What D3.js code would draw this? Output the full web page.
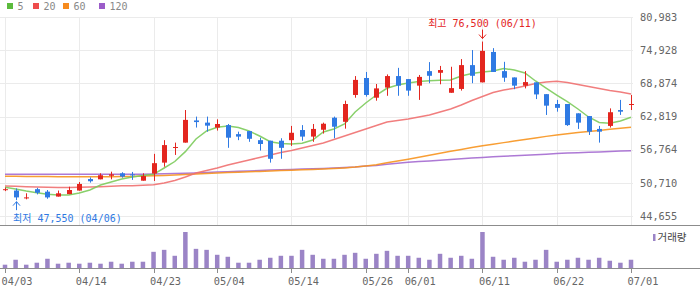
<!DOCTYPE html>
<html>
<head>
<meta charset="utf-8">
<script src="https://cdn.jsdelivr.net/npm/d3@7"></script>
<style>
  html, body { margin: 0; padding: 0; background: #fff; }
  svg { display: block; }
  text { font-family: "DejaVu Sans Mono", "Noto Sans CJK KR", monospace; }
</style>
</head>
<body>
<div id="chart"></div>
<script>
// trading days shown on the chart
var dates = [
	'04/03', '04/06', '04/07', '04/08', '04/09', '04/10', '04/13', '04/14', '04/15', '04/16',
	'04/17', '04/20', '04/21', '04/22', '04/23', '04/24', '04/27', '04/28', '04/29', '04/30',
	'05/04', '05/06', '05/07', '05/08', '05/11', '05/12', '05/13', '05/14', '05/15', '05/18',
	'05/19', '05/20', '05/21', '05/22', '05/26', '05/27', '05/28', '05/29', '06/01', '06/02',
	'06/04', '06/05', '06/08', '06/09', '06/10', '06/11', '06/12', '06/15', '06/16', '06/17',
	'06/18', '06/19', '06/22', '06/23', '06/24', '06/25', '06/26', '06/29', '06/30', '07/01'
];

// daily prices
var openPrice = [
	49500, 49300, 48000, 49550, 49100, 48200, 48650, 49300, 51400, 51350,
	52000, 52450, 52250, 51100, 52400, 54400, 57100, 58050, 62100, 61700,
	60800, 61250, 59600, 60150, 58500, 58400, 58400, 58500, 60350, 59150,
	60400, 62600, 61850, 66750, 69850, 66250, 68100, 70200, 69650, 68450,
	71100, 70800, 67150, 67850, 72200, 69050, 74600, 71100, 69950, 68450,
	69050, 66900, 65100, 65100, 63400, 62900, 60550, 61100, 64000, 65000
];
var highPrice = [
	49850, 49700, 48800, 49800, 49400, 49300, 50000, 50850, 51700, 52450,
	52750, 52650, 52700, 52450, 56000, 58500, 58050, 64000, 62800, 62800,
	62300, 61450, 60050, 60150, 58950, 58400, 58850, 61100, 61250, 61450,
	61700, 62800, 65700, 70200, 70950, 68750, 70500, 71700, 69650, 70400,
	72750, 72050, 71900, 73300, 74950, 76500, 75300, 72800, 69950, 71100,
	69050, 66900, 65850, 65100, 63400, 62900, 61100, 64300, 65850, 66750
];
var lowPrice = [
	49200, 47550, 47700, 48600, 47800, 48200, 48650, 49300, 50750, 51350,
	51350, 51650, 51250, 51100, 51050, 53650, 55800, 58050, 60800, 60050,
	60250, 57100, 58500, 58200, 56600, 54400, 55100, 57450, 58400, 58200,
	59700, 58850, 60600, 66250, 66450, 65700, 66600, 66600, 66600, 65850,
	68900, 68700, 67150, 67550, 68900, 69050, 70950, 69150, 67800, 67950,
	66000, 63100, 63700, 61100, 60550, 59450, 58050, 60800, 63100, 64000
];
var closePrice = [
	49550, 48050, 48050, 48900, 48050, 48800, 49400, 50500, 51000, 52100,
	52250, 51850, 52100, 51950, 54300, 57600, 57250, 62200, 61800, 61150,
	61450, 58950, 59150, 58750, 57800, 55100, 57100, 59850, 59150, 60550,
	61500, 60950, 65100, 69500, 66750, 67950, 70200, 68450, 67550, 70050,
	70250, 71300, 68000, 72200, 70250, 74800, 70950, 69900, 68450, 69100,
	66850, 64800, 64400, 61250, 61700, 60050, 60050, 63600, 63700, 65100
];

// volume (shares)
var volume = [
	10000, 25000, 10000, 16000, 28000, 13000, 16000, 13000, 16000, 13000,
	19000, 13000, 19000, 19000, 49000, 55000, 37000, 109000, 58000, 55000,
	40000, 34000, 16000, 16000, 25000, 31000, 37000, 37000, 55000, 40000,
	28000, 28000, 40000, 46000, 28000, 43000, 52000, 37000, 37000, 31000,
	25000, 43000, 31000, 37000, 28000, 109000, 34000, 25000, 31000, 19000,
	25000, 55000, 19000, 25000, 31000, 25000, 31000, 22000, 16000, 25000
];

// moving averages as drawn
var ma5 = [
	49890, 49580, 49220, 48910, 48620, 48490, 48490, 48850, 49400, 50310,
	50860, 51410, 51770, 52050, 52270, 53420, 54600, 56400, 58710, 60170,
	60850, 61090, 60810, 60170, 59260, 58220, 57890, 57800, 57930, 58530,
	59990, 60540, 61450, 63640, 65280, 66740, 67970, 68570, 68930, 69210,
	69350, 69430, 69480, 70210, 70670, 70940, 71130, 71580, 71310, 70760,
	69300, 68020, 66740, 65520, 64190, 62730, 61720, 61580, 62000, 62670
];
var ma20 = [
	50130, 50080, 50000, 49950, 49890, 49860, 49860, 49890, 49950, 50000,
	50080, 50190, 50190, 50260, 50370, 50680, 51140, 51770, 52510, 52960,
	53420, 53970, 54420, 54880, 55330, 55790, 56250, 56610, 57070, 57530,
	57980, 58620, 59260, 59900, 60540, 61180, 61820, 62090, 62360, 62730,
	63090, 63640, 64190, 64920, 65740, 66470, 67200, 67660, 67970, 68390,
	68840, 69120, 69240, 69030, 68660, 68300, 67930, 67570, 67290, 66930
];
var ma60 = [
	51920, 51900, 51880, 51870, 51850, 51830, 51830, 51810, 51810, 51810,
	51830, 51850, 51880, 51940, 51990, 52070, 52140, 52230, 52320, 52410,
	52510, 52580, 52650, 52720, 52800, 52870, 52940, 53020, 53090, 53140,
	53220, 53310, 53440, 53580, 53780, 54000, 54370, 54700, 55020, 55370,
	55740, 56100, 56480, 56810, 57140, 57470, 57760, 58050, 58350, 58640,
	58910, 59190, 59440, 59680, 59900, 60100, 60280, 60480, 60670, 60870
];
var ma120 = [
	52270, 52270, 52270, 52270, 52270, 52270, 52270, 52270, 52270, 52270,
	52270, 52270, 52270, 52290, 52320, 52360, 52410, 52470, 52520, 52600,
	52670, 52740, 52820, 52890, 52960, 53030, 53090, 53160, 53220, 53270,
	53330, 53420, 53510, 53600, 53780, 53890, 54110, 54290, 54460, 54590,
	54710, 54840, 54970, 55100, 55230, 55350, 55460, 55550, 55640, 55740,
	55830, 55920, 56050, 56140, 56210, 56280, 56360, 56430, 56500, 56580
];

var maLabels = ['5', '20', '60', '120'];
var priceTicks = [44655, 50710, 56764, 62819, 68874, 74928, 80983];
var dateTicks = ['04/03', '04/14', '04/23', '05/04', '05/14', '05/26', '06/01', '06/11', '06/22', '07/01'];

var width = 700,
	height = 289;

var upColor = '#e3261f',
	downColor = '#2f7ae3',
	volColor = '#9b84c6';
var maColors = [ '#5cbb3d', '#ee4c4c', '#f68b1f', '#9b5cc9' ];
var maLineColors = [ '#7ccb5b', '#f07070', '#f7931e', '#a46ad0' ];

var x = d3.scalePoint().domain(dates).range([ 5, 631 ]);
var y = d3.scaleLinear().domain([ priceTicks[0], priceTicks[priceTicks.length - 1] ]).range([ 216, 17 ]);
var yVol = d3.scaleLinear().domain([ 0, d3.max(volume) ]).range([ 268, 232 ]);

var svg = d3.select('#chart').append('svg').attr('width', width).attr('height', height);

function crisp(v) {
	return Math.round(v) + 0.5;
}

// grid
var grid = svg.append('g');
grid
	.selectAll('.hgrid')
	.data(priceTicks)
	.enter()
	.append('line')
	.attr('x1', 0)
	.attr('x2', 633)
	.attr('y1', function(d) { return crisp(y(d)); })
	.attr('y2', function(d) { return crisp(y(d)); })
	.style('stroke', '#ebebeb');
grid
	.selectAll('.vgrid')
	.data(dateTicks)
	.enter()
	.append('line')
	.attr('x1', function(d) { return crisp(x(d)); })
	.attr('x2', function(d) { return crisp(x(d)); })
	.attr('y1', 17)
	.attr('y2', 225)
	.style('stroke', '#ebebeb');

// price labels on the right
svg
	.append('g')
	.selectAll('text')
	.data(priceTicks)
	.enter()
	.append('text')
	.attr('x', 640)
	.attr('y', function(d) { return y(d) + 3.8; })
	.style('font-size', '10.3px')
	.style('fill', '#666')
	.text(d3.format(','));

// moving average lines
var maData = [ ma5, ma20, ma60, ma120 ];
var line = d3
	.line()
	.x(function(d, i) { return x(dates[i]); })
	.y(function(d) { return y(d); });

svg
	.append('g')
	.selectAll('path')
	.data(maData.slice().reverse())
	.enter()
	.append('path')
	.attr('d', line)
	.style('fill', 'none')
	.style('stroke', function(d, i) { return maLineColors[3 - i]; })
	.style('stroke-width', 1.5)
	.style('stroke-opacity', 0.9);

// candles
var candles = svg
	.append('g')
	.selectAll('g')
	.data(dates)
	.enter()
	.append('g')
	.style('fill', function(d, i) { return closePrice[i] >= openPrice[i] ? upColor : downColor; })
	.style('stroke', function(d, i) { return closePrice[i] >= openPrice[i] ? upColor : downColor; });

candles
	.append('line')
	.attr('x1', function(d) { return crisp(x(d)); })
	.attr('x2', function(d) { return crisp(x(d)); })
	.attr('y1', function(d, i) { return y(highPrice[i]); })
	.attr('y2', function(d, i) { return y(lowPrice[i]); })
	.style('stroke-width', 1);

candles
	.append('rect')
	.attr('x', function(d) { return Math.round(x(d)) - 2; })
	.attr('width', 5)
	.attr('y', function(d, i) { return y(Math.max(openPrice[i], closePrice[i])); })
	.attr('height', function(d, i) {
		return Math.max(1, Math.abs(y(openPrice[i]) - y(closePrice[i])));
	})
	.style('stroke', 'none');

// high / low markers
var hiIdx = d3.maxIndex(highPrice),
	loIdx = d3.minIndex(lowPrice);
var fmt = d3.format(',');

var hx = crisp(x(dates[hiIdx])),
	hy = y(highPrice[hiIdx]);
svg
	.append('path')
	.attr('d', 'M' + hx + ',' + (hy - 12) + 'V' + (hy - 3) + 'M' + (hx - 3.5) + ',' + (hy - 7) + 'L' + hx + ',' + (hy - 3) + 'L' + (hx + 3.5) + ',' + (hy - 7))
	.style('fill', 'none')
	.style('stroke', '#e3261f');
var hiText = svg
	.append('text')
	.attr('y', hy - 15)
	.style('font-size', '10px')
	.style('fill', '#e3261f')
	.text('최고 ' + fmt(highPrice[hiIdx]) + ' (' + dates[hiIdx] + ')');
var hw = hiText.node().getComputedTextLength();
hiText.attr('x', Math.max(13, hx - hw / 2));

var lx = crisp(x(dates[loIdx])),
	ly = y(lowPrice[loIdx]);
svg
	.append('path')
	.attr('d', 'M' + lx + ',' + (ly + 10) + 'V' + (ly + 1.5) + 'M' + (lx - 3.5) + ',' + (ly + 5.5) + 'L' + lx + ',' + (ly + 1.5) + 'L' + (lx + 3.5) + ',' + (ly + 5.5))
	.style('fill', 'none')
	.style('stroke', '#2f7ae3');
var loText = svg
	.append('text')
	.attr('y', ly + 22)
	.style('font-size', '10px')
	.style('fill', '#2f7ae3')
	.text('최저 ' + fmt(lowPrice[loIdx]) + ' (' + dates[loIdx] + ')');
var lw = loText.node().getComputedTextLength();
loText.attr('x', Math.max(13, lx - lw / 2));

// volume pane
svg.append('line').attr('x1', 0).attr('x2', width).attr('y1', 225.5).attr('y2', 225.5).style('stroke', '#8c8c8c');

svg
	.append('g')
	.selectAll('rect')
	.data(volume)
	.enter()
	.append('rect')
	.attr('x', function(d, i) { return x(dates[i]) - 2.25; })
	.attr('width', 4.5)
	.attr('y', function(d) { return yVol(d); })
	.attr('height', function(d) { return 268 - yVol(d); })
	.style('fill', volColor);

svg.append('line').attr('x1', 0).attr('x2', width).attr('y1', 268.5).attr('y2', 268.5).style('stroke', '#8c8c8c');

// x axis ticks + labels
var xAxis = svg.append('g');
xAxis
	.selectAll('line')
	.data(dateTicks)
	.enter()
	.append('line')
	.attr('x1', function(d) { return crisp(x(d)); })
	.attr('x2', function(d) { return crisp(x(d)); })
	.attr('y1', 269)
	.attr('y2', 273)
	.style('stroke', '#8c8c8c');
xAxis
	.selectAll('text')
	.data(dateTicks)
	.enter()
	.append('text')
	.attr('x', function(d) { return x(d) - 3.5; })
	.attr('y', 285)
	.style('font-size', '10.3px')
	.style('fill', '#666')
	.text(function(d) { return d; });

// volume legend
svg.append('rect').attr('x', 653).attr('y', 234).attr('width', 2.5).attr('height', 7).style('fill', volColor);
svg
	.append('text')
	.attr('x', 657.5)
	.attr('y', 241)
	.style('font-size', '10.5px')
	.style('fill', '#444')
	.text('거래량');

// MA legend
var legend = svg
	.append('g')
	.selectAll('g')
	.data(maLabels)
	.enter()
	.append('g')
	.attr('transform', function(d, i) { return 'translate(' + [ 7, 33, 63, 99 ][i] + ',0)'; });
legend
	.append('rect')
	.attr('y', 3)
	.attr('width', 6)
	.attr('height', 6)
	.style('fill', function(d, i) { return maColors[i]; });
legend
	.append('text')
	.attr('x', 10.5)
	.attr('y', 9.5)
	.style('font-size', '10px')
	.style('fill', '#888')
	.text(function(d) { return d; });
</script>
</body>
</html>
